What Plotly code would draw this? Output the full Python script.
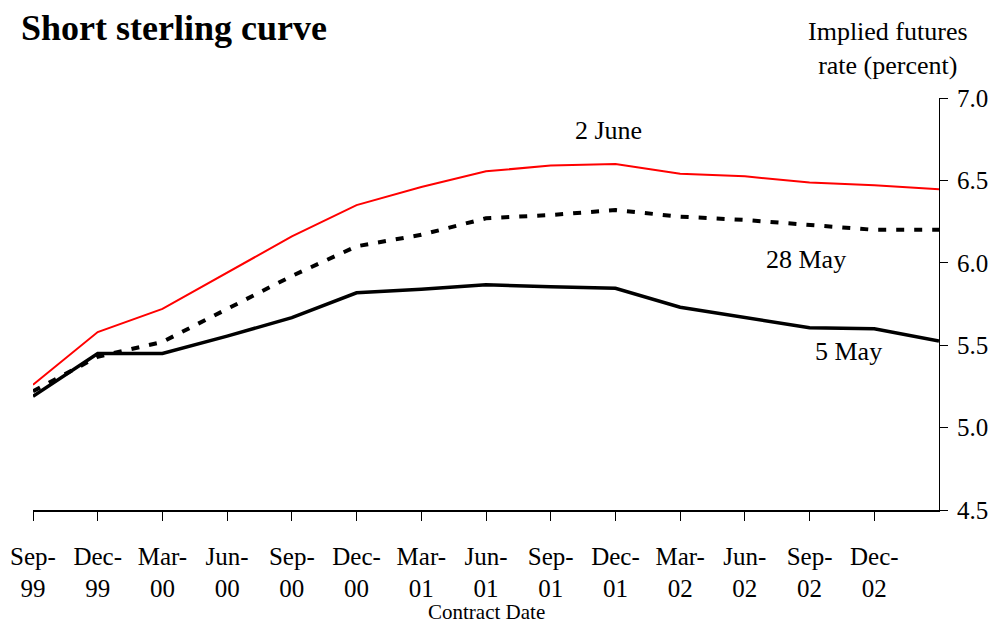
import plotly.graph_objects as go

contracts = ["Sep-99", "Dec-99", "Mar-00", "Jun-00", "Sep-00", "Dec-00", "Mar-01",
             "Jun-01", "Sep-01", "Dec-01", "Mar-02", "Jun-02", "Sep-02", "Dec-02", "Mar-03"]
tick_labels = ["Sep-<br>99", "Dec-<br>99", "Mar-<br>00", "Jun-<br>00", "Sep-<br>00",
               "Dec-<br>00", "Mar-<br>01", "Jun-<br>01", "Sep-<br>01", "Dec-<br>01",
               "Mar-<br>02", "Jun-<br>02", "Sep-<br>02", "Dec-<br>02"]

june2 = [5.26, 5.58, 5.72, 5.94, 6.16, 6.35, 6.46, 6.555, 6.59, 6.60, 6.54, 6.525, 6.487, 6.47, 6.446]
may28 = [5.22, 5.43, 5.52, 5.72, 5.92, 6.10, 6.17, 6.27, 6.29, 6.32, 6.28, 6.26, 6.23, 6.20, 6.20]
may5 = [5.19, 5.45, 5.45, 5.555, 5.667, 5.818, 5.84, 5.867, 5.855, 5.845, 5.73, 5.67, 5.606, 5.60, 5.525]

x = list(range(len(contracts)))
FONT = "Liberation Serif, Times New Roman, serif"

fig = go.Figure()
fig.add_trace(go.Scatter(x=x, y=june2, mode="lines", name="2 June",
                         line=dict(color="#ff0000", width=2), hovertext=contracts))
fig.add_trace(go.Scatter(x=x, y=may28, mode="lines", name="28 May",
                         line=dict(color="black", width=4, dash="8px,10px"), hovertext=contracts))
fig.add_trace(go.Scatter(x=x, y=may5, mode="lines", name="5 May",
                         line=dict(color="black", width=3.5), hovertext=contracts))

fig.update_layout(
    width=995, height=624,
    margin=dict(l=33, r=56, t=98, b=114),
    plot_bgcolor="white", paper_bgcolor="white",
    showlegend=False,
    font=dict(family=FONT, color="black", size=25),
    xaxis=dict(range=[0, 14], tickvals=list(range(len(tick_labels))), ticktext=tick_labels,
               showline=True, linecolor="black", linewidth=1.5, automargin=False,
               ticks="outside", ticklen=9, tickcolor="black", tickwidth=1,
               showgrid=False, zeroline=False, tickangle=0,
               tickfont=dict(size=25, family=FONT), ticklabelstandoff=14),
    yaxis=dict(range=[4.5, 7.0], side="right", dtick=0.5, tickformat=".1f",
               showline=True, linecolor="black", linewidth=1.2, automargin=False,
               ticks="outside", ticklen=8, tickcolor="black", tickwidth=1,
               showgrid=False, zeroline=False, ticklabelstandoff=4,
               tickfont=dict(size=25, family=FONT)),
)

fig.add_annotation(text="<b>Short sterling curve</b>", xref="paper", yref="paper",
                   x=-0.016, y=1.0, yshift=70, xanchor="left", yanchor="middle",
                   showarrow=False, font=dict(size=36, family=FONT))
fig.add_annotation(text="Implied futures<br>rate (percent)", xref="paper", yref="paper",
                   x=1.0, y=1.0, xshift=-51, yshift=50, xanchor="center", yanchor="middle",
                   showarrow=False, font=dict(size=26, family=FONT))
fig.add_annotation(text="Contract Date", xref="paper", yref="paper",
                   x=0.5, y=0, yshift=-102, xanchor="center", yanchor="middle",
                   showarrow=False, font=dict(size=21, family=FONT))

fig.add_annotation(text="2 June", x=8.9, y=6.80, showarrow=False,
                   font=dict(size=26, family=FONT))
fig.add_annotation(text="28 May", x=11.95, y=6.02, showarrow=False,
                   font=dict(size=26, family=FONT))
fig.add_annotation(text="5 May", x=12.6, y=5.46, showarrow=False,
                   font=dict(size=26, family=FONT))

fig.write_html("out.html")
